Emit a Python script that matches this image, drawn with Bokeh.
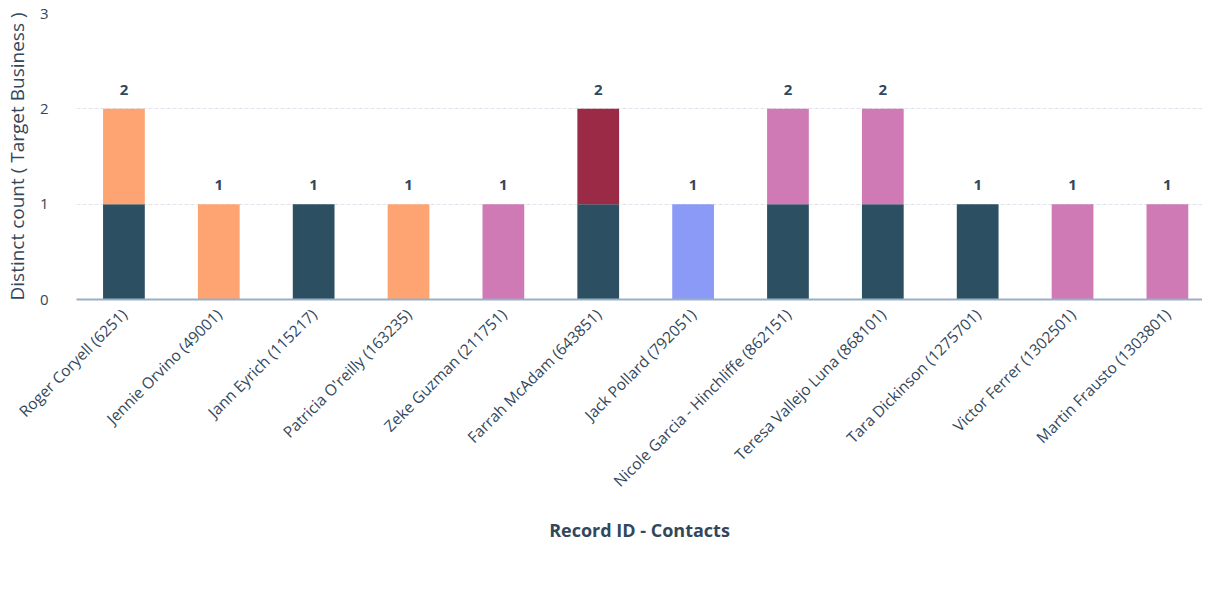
from bokeh.plotting import figure
from bokeh.models import (ColumnDataSource, Range1d, FixedTicker, Legend, LegendItem)
from bokeh.embed import file_html
from bokeh.resources import INLINE
from bokeh.core.properties import value
import math

contacts = ["Roger Coryell (6251)", "Jennie Orvino (49001)", "Jann Eyrich (115217)",
            "Patricia O'reilly (163235)", "Zeke Guzman (211751)", "Farrah McAdam (643851)",
            "Jack Pollard (792051)", "Nicole Garcia - Hinchliffe (862151)",
            "Teresa Vallejo Luna (868101)", "Tara Dickinson (1275701)",
            "Victor Ferrer (1302501)", "Martin Frausto (1303801)"]
woman_owned      = [1, 0, 1, 0, 0, 1, 0, 1, 1, 1, 0, 0]
american_indian  = [0, 0, 0, 0, 0, 0, 1, 0, 0, 0, 0, 0]
asian            = [0, 0, 0, 0, 0, 1, 0, 0, 0, 0, 0, 0]
latino           = [0, 0, 0, 0, 1, 0, 0, 1, 1, 0, 1, 1]
white            = [1, 1, 0, 1, 0, 0, 0, 0, 0, 0, 0, 0]
y_ticks = [0, 1, 2, 3]

series = ["Woman-Owned", "American Indian or Alaska Native", "Asian", "Latino/Hispanic", "White"]
colors = {"Woman-Owned": "#2d4f62", "American Indian or Alaska Native": "#8c9af7",
          "Asian": "#9a2a46", "Latino/Hispanic": "#cf79b5", "White": "#fea472"}
legend_order = ["American Indian or Alaska Native", "Asian", "Latino/Hispanic", "White", "Woman-Owned"]

TEXT = "#33475b"
FONT = "Open Sans"

xpos = [i + 0.5 for i in range(len(contacts))]
totals = [a + b + c + d + e for a, b, c, d, e in zip(woman_owned, american_indian, asian, latino, white)]
src = ColumnDataSource(dict(x=xpos, total=totals, label=[str(t) for t in totals],
                            **{"Woman-Owned": woman_owned,
                               "American Indian or Alaska Native": american_indian,
                               "Asian": asian, "Latino/Hispanic": latino, "White": white}))

p = figure(frame_width=1126, frame_height=286, output_backend="svg",
           toolbar_location=None, x_range=Range1d(0, 11.87), y_range=Range1d(0, 3))
p.min_border_left = 68
p.min_border_right = 0
p.min_border_top = 13
p.min_border_bottom = 0
p.outline_line_color = None
p.background_fill_color = "white"

p.vbar_stack(series, x="x", width=0.44, source=src,
             color=[colors[s] for s in series], line_color=None)

p.text(x="x", y="total", text="label", source=src, text_align="center",
       text_baseline="middle", y_offset=-19, text_font=value(FONT),
       text_font_style="bold", text_font_size="15px", text_color=TEXT)

# grid
p.xgrid.grid_line_color = None
p.ygrid.grid_line_color = "#dfe3eb"
p.ygrid.grid_line_dash = "4 2"
p.ygrid.grid_line_width = 1
p.ygrid.ticker = FixedTicker(ticks=y_ticks)

# x axis
xa = p.xaxis[0]
xa.ticker = FixedTicker(ticks=xpos)
xa.major_label_overrides = {x: c for x, c in zip(xpos, contacts)}
xa.major_label_orientation = math.pi / 4
xa.major_tick_line_color = None
xa.minor_tick_line_color = None
xa.axis_line_color = "#99afc4"
xa.axis_line_width = 2
xa.major_label_text_font = FONT
xa.major_label_text_font_size = "15.5px"
xa.major_label_text_color = TEXT
xa.major_label_standoff = 6
xa.axis_label = "Record ID - Contacts"
xa.axis_label_text_font = FONT
xa.axis_label_text_font_style = "bold"
xa.axis_label_text_font_size = "18px"
xa.axis_label_text_color = TEXT
xa.axis_label_standoff = 16

# y axis
ya = p.yaxis[0]
ya.ticker = FixedTicker(ticks=y_ticks)
ya.axis_line_color = None
ya.major_tick_line_color = None
ya.minor_tick_line_color = None
ya.major_label_text_font = FONT
ya.major_label_text_font_size = "15px"
ya.major_label_text_color = TEXT
ya.major_label_standoff = 22
ya.axis_label = "Distinct count ( Target Business )"
ya.axis_label_text_font = FONT
ya.axis_label_text_font_style = "normal"
ya.axis_label_text_font_size = "19px"
ya.axis_label_text_color = TEXT
ya.axis_label_standoff = 7

# legend with circle markers (size-0 points, only the legend icon is visible)
items = []
for s in legend_order:
    r = p.scatter(x="x", y="total", source=src, marker="circle", size=0,
                  fill_color=colors[s], line_color=None)
    items.append(LegendItem(label=s, renderers=[r]))
legend = Legend(items=items, orientation="horizontal", location="top_left",
                label_text_font=FONT, label_text_font_size="18px", label_text_color=TEXT,
                glyph_width=30, glyph_height=56, label_standoff=0, spacing=22,
                border_line_color=None, background_fill_alpha=0, padding=0, margin=0)
p.add_layout(legend, "below")

open("out.html", "w").write(file_html(p, INLINE))
